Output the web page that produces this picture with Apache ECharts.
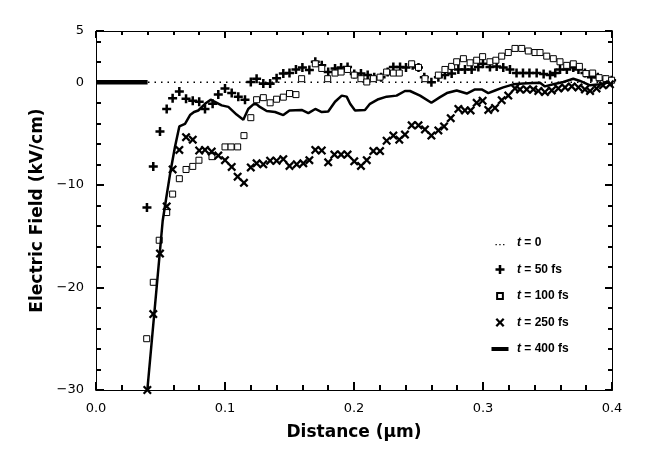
<!DOCTYPE html>
<html><head><meta charset="utf-8">
<script src="https://cdn.jsdelivr.net/npm/echarts@6/dist/echarts.min.js"></script>
<style>html,body{margin:0;padding:0;background:#fff}#c{width:650px;height:469px}</style>
</head><body><div id="c"></div>
<script>
// Distance (µm) / Electric field (kV/cm)
const legendNames = ['t = 0', 't = 50 fs', 't = 100 fs', 't = 250 fs', 't = 400 fs'];
const t0 = [[0, 0], [0.4, 0]];
const t50 = [[0.0395,-12.2],[0.0444,-8.2],[0.0496,-4.8],[0.0548,-2.6],[0.0594,-1.55],[0.0646,-0.9],[0.0698,-1.6],[0.075,-1.8],[0.080,-1.9],[0.0845,-2.6],[0.0904,-2.1],[0.0948,-1.2],[0.100,-0.6],[0.1052,-1.05],[0.1103,-1.4],[0.1155,-1.7],[0.120,0.03],[0.1245,0.35],[0.1297,-0.13],[0.135,-0.13],[0.140,0.4],[0.1452,0.85],[0.150,0.9],[0.155,1.25],[0.160,1.45],[0.1654,1.2],[0.170,2.0],[0.175,1.65],[0.180,1.0],[0.1853,1.35],[0.190,1.45],[0.195,1.5],[0.2002,0.8],[0.2054,0.85],[0.2106,0.7],[0.2157,0.5],[0.221,0.5],[0.2261,1.0],[0.2305,1.5],[0.2357,1.5],[0.2403,1.45],[0.2455,1.65],[0.250,1.45],[0.2545,0.5],[0.260,0],[0.2654,0.5],[0.2705,0.7],[0.2757,0.85],[0.2809,1.25],[0.286,1.25],[0.2912,1.25],[0.2964,1.5],[0.300,1.8],[0.3054,1.5],[0.3106,1.55],[0.3157,1.45],[0.3209,1.25],[0.326,0.9],[0.331,0.9],[0.336,0.9],[0.3416,0.9],[0.347,0.8],[0.352,0.7],[0.356,0.9],[0.3597,1.25],[0.365,1.25],[0.370,1.45],[0.374,1.25],[0.379,0.9],[0.384,0.5],[0.389,0.5],[0.3946,0.25],[0.3997,0.2]];
const t100 = [[0.0393,-25],[0.0444,-19.5],[0.049,-15.4],[0.0548,-12.7],[0.0594,-10.9],[0.0646,-9.4],[0.0698,-8.5],[0.075,-8.2],[0.0798,-7.6],[0.0899,-7.25],[0.100,-6.3],[0.1047,-6.3],[0.1098,-6.3],[0.1147,-5.2],[0.120,-3.45],[0.1245,-1.7],[0.1297,-1.5],[0.135,-2.0],[0.140,-1.65],[0.1452,-1.45],[0.150,-1.1],[0.155,-1.2],[0.1594,0.35],[0.170,1.8],[0.175,1.35],[0.1796,0.35],[0.1853,0.9],[0.190,1.0],[0.195,1.25],[0.2002,0.7],[0.2054,0.35],[0.2099,0.03],[0.215,0.35],[0.2202,0.5],[0.2253,1.0],[0.2305,0.9],[0.2351,0.9],[0.2447,1.8],[0.250,1.45],[0.255,0.35],[0.2654,0.7],[0.2705,1.25],[0.2757,1.55],[0.2796,2.0],[0.2848,2.3],[0.290,1.9],[0.2951,2.15],[0.2997,2.5],[0.3054,2.0],[0.310,2.15],[0.3145,2.55],[0.3196,2.9],[0.3248,3.3],[0.330,3.3],[0.3351,3.05],[0.3403,2.9],[0.3442,2.9],[0.3494,2.55],[0.3545,2.3],[0.3597,2.0],[0.3649,1.65],[0.370,1.8],[0.3747,1.55],[0.3798,0.85],[0.385,0.9],[0.390,0.45],[0.3953,0.35],[0.3997,0.2]];
const t250 = [[0.0398,-30],[0.0444,-22.6],[0.0496,-16.7],[0.0548,-12.1],[0.0594,-8.5],[0.0646,-6.6],[0.0698,-5.35],[0.075,-5.6],[0.080,-6.65],[0.0845,-6.6],[0.0897,-6.75],[0.0948,-7.15],[0.100,-7.6],[0.1052,-8.25],[0.1098,-9.2],[0.1147,-9.8],[0.120,-8.3],[0.1245,-7.9],[0.1297,-8.0],[0.135,-7.65],[0.140,-7.65],[0.1452,-7.5],[0.150,-8.15],[0.1556,-8.0],[0.1607,-7.9],[0.1654,-7.6],[0.170,-6.6],[0.175,-6.65],[0.180,-7.8],[0.1848,-7.05],[0.190,-7.05],[0.195,-7.05],[0.2002,-7.7],[0.2054,-8.15],[0.2099,-7.6],[0.215,-6.7],[0.2202,-6.7],[0.2253,-5.7],[0.2305,-5.2],[0.2351,-5.6],[0.2395,-5.1],[0.2447,-4.2],[0.250,-4.2],[0.255,-4.6],[0.260,-5.2],[0.2654,-4.7],[0.2698,-4.3],[0.275,-3.5],[0.2809,-2.6],[0.286,-2.75],[0.2904,-2.75],[0.2951,-2.0],[0.2997,-1.8],[0.3041,-2.7],[0.3093,-2.5],[0.3145,-1.75],[0.3196,-1.3],[0.3248,-0.6],[0.3287,-0.7],[0.3339,-0.7],[0.339,-0.7],[0.3429,-0.85],[0.348,-0.95],[0.3533,-0.8],[0.3584,-0.6],[0.3636,-0.5],[0.3688,-0.4],[0.374,-0.5],[0.379,-0.7],[0.383,-0.85],[0.388,-0.6],[0.393,-0.3],[0.3984,-0.2]];
const t400 = [[0.0398,-30],[0.0517,-13.5],[0.0543,-11.4],[0.0574,-8.95],[0.0612,-6.3],[0.0646,-4.3],[0.069,-4.05],[0.0729,-3.2],[0.076,-2.9],[0.0793,-2.75],[0.0845,-2.1],[0.0889,-1.7],[0.0922,-1.9],[0.0974,-2.25],[0.1026,-2.4],[0.109,-3.15],[0.1142,-3.65],[0.118,-2.6],[0.122,-2.15],[0.1245,-2.15],[0.127,-2.4],[0.1323,-2.8],[0.1388,-2.9],[0.1452,-3.2],[0.150,-2.75],[0.1594,-2.7],[0.1646,-3.0],[0.170,-2.6],[0.175,-2.9],[0.180,-2.85],[0.1853,-1.9],[0.1905,-1.3],[0.1943,-1.4],[0.197,-2.1],[0.2008,-2.75],[0.2085,-2.7],[0.2124,-2.1],[0.2189,-1.65],[0.2253,-1.4],[0.233,-1.3],[0.2395,-0.85],[0.2434,-0.85],[0.2512,-1.3],[0.260,-2.0],[0.2667,-1.45],[0.272,-1.05],[0.2796,-0.8],[0.2874,-1.1],[0.2938,-0.7],[0.299,-0.7],[0.3041,-1.05],[0.3093,-0.8],[0.3157,-0.5],[0.3235,-0.2],[0.3313,-0.13],[0.339,-0.06],[0.3442,-0.05],[0.348,-0.4],[0.3545,-0.2],[0.3623,0.03],[0.370,0.35],[0.3752,0.13],[0.383,-0.3],[0.3907,-0.2],[0.3984,0.03]];
const t400Flat = [[0, 0], [0.04, 0]];
const xTickLabels = ['0.0', '0.1', '0.2', '0.3', '0.4'];
const yTickLabels = ['−30', '−20', '−10', '0', '5'];

const FONT = 'DejaVu Sans';
const PLUS = 'path://M3.6,0H6.4V3.6H10V6.4H6.4V10H3.6V6.4H0V3.6H3.6Z';
const CROSS = 'path://M0,1.8L1.8,0L5,3.2L8.2,0L10,1.8L6.8,5L10,8.2L8.2,10L5,6.8L1.8,10L0,8.2L3.2,5Z';
const ICON_DOTS = 'path://M0,0ZM24,9ZM7.5,5.5h1.3v1.3h-1.3zM11.3,5.5h1.3v1.3h-1.3zM15.1,5.5h1.3v1.3h-1.3z';
const ICON_BAR = 'path://M0,0ZM24,9ZM3.5,2.5H20.5V6.5H3.5Z';
const ICON_SQ = 'path://M0,0ZM10,10ZM1.8,1.8H8.2V8.2H1.8Z';

function isMult(v, step) { const r = v / step; return Math.abs(r - Math.round(r)) < 1e-6; }
function xLab(v) { if (!isMult(v, 0.1)) return ''; const i = Math.round(v * 10); return xTickLabels[i] || ''; }
function yLab(v) { if (Math.abs(v - 5) < 1e-6) return yTickLabels[4]; if (!isMult(v, 10)) return ''; return yTickLabels[Math.round(v / 10) + 3] || ''; }

const black = '#000';
function xAx(pos, interval, len, opts) {
  return Object.assign({
    type: 'value', position: pos, min: 0, max: 0.4, interval: interval,
    axisLine: { show: true, onZero: false, lineStyle: { color: black, width: 1 } },
    axisTick: { show: true, inside: true, length: len, lineStyle: { color: black, width: 2 } },
    axisLabel: { show: false }, splitLine: { show: false }
  }, opts || {});
}
function yAx(pos, interval, len, opts) {
  return Object.assign({
    type: 'value', position: pos, min: -30, max: 5, interval: interval,
    axisLine: { show: true, onZero: false, lineStyle: { color: black, width: 1 } },
    axisTick: { show: true, inside: true, length: len, lineStyle: { color: black, width: 2 } },
    axisLabel: { show: false }, splitLine: { show: false }
  }, opts || {});
}

const chart = echarts.init(document.getElementById('c'), null, { renderer: 'canvas' });
chart.setOption({
  animation: false,
  backgroundColor: '#fff',
  grid: { left: 96, right: 38, top: 31, bottom: 79 },
  xAxis: [
    xAx('bottom', 0.02, 5, {
      axisLabel: { show: true, formatter: xLab, color: black, fontFamily: FONT, fontSize: 13, margin: 12 },
      name: 'Distance (μm)', nameLocation: 'middle', nameGap: 34,
      nameTextStyle: { color: black, fontFamily: FONT, fontSize: 17, fontWeight: 'bold' }
    }),
    xAx('bottom', 0.1, 8),
    xAx('top', 0.02, 4),
    xAx('top', 0.1, 7)
  ],
  yAxis: [
    yAx('left', 2, 5, {
      axisLabel: { show: true, formatter: yLab, color: black, fontFamily: FONT, fontSize: 13, margin: 12 },
      name: 'Electric Field (kV/cm)', nameLocation: 'middle', nameGap: 50, nameRotate: 90,
      nameTextStyle: { color: black, fontFamily: FONT, fontSize: 17, fontWeight: 'bold' }
    }),
    yAx('left', 10, 8),
    yAx('right', 2, 4),
    yAx('right', 10, 7)
  ],
  legend: {
    orient: 'vertical', left: 483, top: 232, itemWidth: 24, itemHeight: 9, itemGap: 14.5,
    data: [
      { name: legendNames[0], icon: ICON_DOTS },
      { name: legendNames[1], icon: PLUS },
      { name: legendNames[2], icon: ICON_SQ },
      { name: legendNames[3], icon: CROSS },
      { name: legendNames[4], icon: ICON_BAR }
    ],
    formatter: n => '{i|t}' + n.slice(1),
    textStyle: { color: black, fontFamily: 'Liberation Sans', fontSize: 12, fontWeight: 'bold',
      rich: { i: { fontStyle: 'italic', fontFamily: 'Liberation Sans', fontSize: 12, fontWeight: 'bold', color: black } } },
    selectedMode: false
  },
  series: [
    { name: legendNames[0], type: 'line', data: t0, symbol: 'none', lineStyle: { color: black, width: 1.5, type: [1.5, 5] }, itemStyle: { color: black }, z: 2 },
    { name: legendNames[1], type: 'scatter', data: t50, symbol: PLUS, symbolSize: 9, itemStyle: { color: black, opacity: 1 }, z: 3 },
    { name: legendNames[2], type: 'scatter', data: t100, symbol: 'rect', symbolSize: 6, itemStyle: { color: '#fff', borderColor: black, borderWidth: 1, opacity: 1 }, z: 3 },
    { name: legendNames[3], type: 'scatter', data: t250, symbol: CROSS, symbolSize: 9, itemStyle: { color: black, opacity: 1 }, z: 3 },
    { name: legendNames[4], type: 'line', data: t400, symbol: 'none', lineStyle: { color: black, width: 2.5 }, itemStyle: { color: black }, z: 4 },
    { name: 'flat', type: 'line', data: t400Flat, symbol: 'none', lineStyle: { color: black, width: 4.5 }, z: 4 }
  ]
});
</script></body></html>
